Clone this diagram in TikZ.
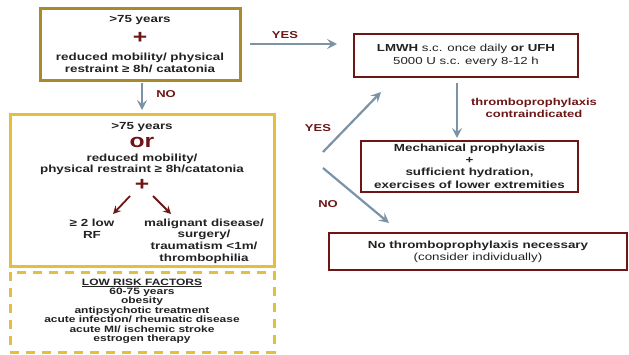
\documentclass[tikz,border=0pt]{standalone}
\usepackage{fontspec}
\setmainfont[FakeStretch=1.3]{Liberation Sans}
\usetikzlibrary{arrows.meta}
\definecolor{goldA}{HTML}{A8892C}
\definecolor{goldB}{HTML}{E3C03C}
\definecolor{dred}{HTML}{6E1616}
\definecolor{arrgray}{HTML}{7B93A6}
\definecolor{txt}{HTML}{222222}
\tikzset{
  box/.style={draw, line width=#1, inner sep=0pt, fill=white},
  box/.default=2.5pt,
  t/.style={font=\fontsize{10.3}{11.6}\selectfont\bfseries, text=txt, inner sep=0pt, align=center},
  ts/.style={font=\fontsize{9.2}{9.4}\selectfont\bfseries, text=txt, inner sep=0pt, align=center},
  tr/.style={font=\fontsize{10.2}{13}\selectfont, text=txt, inner sep=0pt, align=center},
  lab/.style={font=\fontsize{10}{12}\selectfont\bfseries, text=dred, inner sep=0pt, align=center},
  plus/.style={font=\fontsize{19}{19}\selectfont\bfseries, text=dred, inner sep=0pt},
  arr/.style={draw=arrgray, line width=2.2pt, -{Stealth[length=10pt,width=10pt,inset=4pt]}},
  rarr/.style={draw=dred, line width=1.8pt, -{Stealth[length=8pt,width=8pt,inset=3pt]}},
}
\begin{document}
\begin{tikzpicture}[x=1pt,y=-1pt]
\useasboundingbox (0,0) rectangle (629,354);
% boxes
\node[box=3pt, draw=goldA, minimum width=200pt, minimum height=72pt] (b1) at (140,44) {};
\node[box=3pt, draw=goldB, minimum width=264pt, minimum height=152pt] (b2) at (142,190) {};
\node[box=3pt, draw=goldB, dash pattern=on 9pt off 7pt, minimum width=264pt, minimum height=80pt] (b3) at (142,312) {};
\node[box=2.8pt, draw=dred, minimum width=224pt, minimum height=43pt] (lm) at (466,55.5) {};
\node[box=2.8pt, draw=dred, minimum width=217pt, minimum height=51pt] (me) at (469.5,166.5) {};
\node[box=2.8pt, draw=dred, minimum width=298pt, minimum height=37pt] (nt) at (478,251.5) {};
% box 1 text
\node[t] (b1a) at (140,20) {>75 years};
\node[plus] (b1p) at (140,38) {+};
\node[t] (b1b) at (140,63) {reduced mobility/ physical\\restraint ≥ 8h/ catatonia};
% box 2 text
\node[t] (b2a) at (142,127) {>75 years};
\node[font=\fontsize{19}{19}\selectfont\bfseries, text=dred, inner sep=0pt] (b2or) at (142,142) {or};
\node[t] (b2b) at (142,164.5) {reduced mobility/\\physical restraint ≥ 8h/catatonia};
\node[plus] (b2p) at (142,185) {+};
\coordinate (r1s) at (130,196); \coordinate (r1e) at (113,214);
\coordinate (r2s) at (153,196); \coordinate (r2e) at (171,214);
\draw[rarr] (r1s) -- (r1e);
\draw[rarr] (r2s) -- (r2e);
\node[t] (b2l) at (92,229) {≥ 2 low\\RF};
\node[t] (b2r) at (204,241) {malignant disease/\\surgery/\\traumatism <1m/\\thrombophilia};
% box 3 text
\node[ts] (b3t) at (142,311) {\underline{LOW RISK FACTORS}\\60-75 years\\obesity\\antipsychotic treatment\\acute infection/ rheumatic disease\\acute MI/ ischemic stroke\\estrogen therapy};
% right texts
\node[tr] (lmt) at (466,55.5) {\textbf{LMWH} s.c. once daily \textbf{or UFH}\\5000 U s.c. every 8-12 h};
\node[t, font=\fontsize{10.3}{12.4}\selectfont\bfseries] (met) at (469.5,166) {Mechanical prophylaxis\\+\\sufficient hydration,\\exercises of lower extremities};
\node[tr, font=\fontsize{10.3}{12}\selectfont] (ntt) at (478,252) {\textbf{No thromboprophylaxis necessary}\\(consider individually)};
% arrows
\coordinate (ya) at (250,44); \coordinate (yb) at (337,44);
\draw[arr] (ya) -- (yb);
\node[lab] (yes1) at (285,35) {YES};
\coordinate (na) at (142,83); \coordinate (nb) at (142,110);
\draw[arr] (na) -- (nb);
\node[lab] (no1) at (166,94) {NO};
\coordinate (ca) at (457,83); \coordinate (cb) at (457,138);
\draw[arr] (ca) -- (cb);
\node[lab] (ci) at (534,108) {thromboprophylaxis\\contraindicated};
\coordinate (d1a) at (323,152); \coordinate (d1b) at (381,92);
\draw[arr] (d1a) -- (d1b);
\node[lab] (yes2) at (318,128) {YES};
\coordinate (d2a) at (323,168); \coordinate (d2b) at (389,223);
\draw[arr] (d2a) -- (d2b);
\node[lab] (no2) at (328,204) {NO};
\end{tikzpicture}
\end{document}
